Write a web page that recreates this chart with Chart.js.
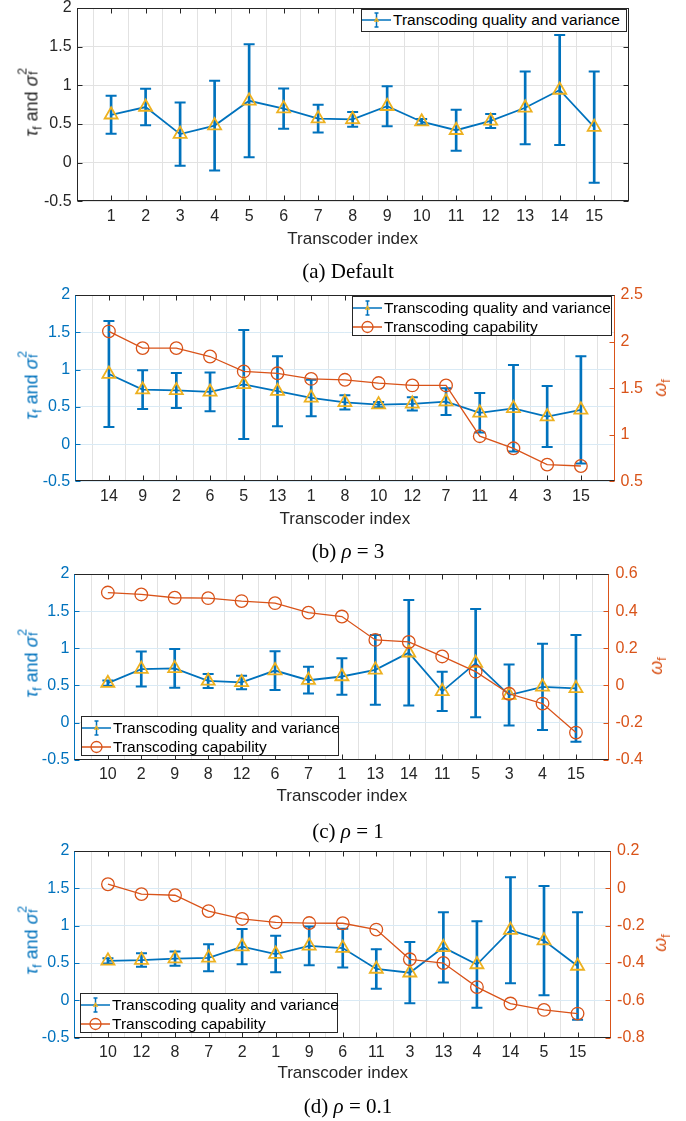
<!DOCTYPE html>
<html><head><meta charset="utf-8">
<script src="https://cdn.jsdelivr.net/npm/chart.js@4.4.1/dist/chart.umd.min.js"></script>
<style>
body{margin:0;background:#fff;}
#page{position:relative;width:686px;height:1121px;overflow:hidden;font-family:'Liberation Sans',Arial,sans-serif;}
canvas{position:absolute;left:0;}
.xl{position:absolute;font-size:17px;color:#262626;transform:translate(-50%,-50%);white-space:nowrap;line-height:1;}
.cap{position:absolute;font-family:'Liberation Serif','Times New Roman',serif;font-size:21px;color:#000;transform:translate(-50%,-50%);white-space:nowrap;line-height:1;}
.yl{position:absolute;font-size:18px;white-space:nowrap;line-height:1;transform:translate(-50%,-50%) rotate(-90deg);}
.gk{font-style:italic;}
.sb{font-size:0.7em;position:relative;top:0.3em;}
.st{display:inline-block;position:relative;width:0.45em;height:1em;}
.st span{position:absolute;left:0.05em;font-size:0.7em;line-height:1;}
.leg{position:absolute;border:1px solid #262626;background:#fff;font-size:15.5px;color:#000;box-sizing:border-box;}
.leg .row{position:absolute;left:0;height:20px;display:flex;align-items:center;white-space:nowrap;}
.leg svg{display:block;margin-right:2px;}
</style></head>
<body><div id="page"></div>
<script>
// ---------- data ----------
const transcoderIndex = [1,2,3,4,5,6,7,8,9,10,11,12,13,14,15];
const qualityMean     = [0.62,0.72,0.37,0.48,0.80,0.70,0.57,0.56,0.73,0.53,0.42,0.54,0.71,0.94,0.46];
const qualityVariance = [0.245,0.235,0.41,0.58,0.73,0.26,0.18,0.095,0.26,0.035,0.265,0.09,0.47,0.71,0.72];

const orderB = [14,9,2,6,5,13,1,8,10,12,7,11,4,3,15];
const omegaB = [2.11,1.93,1.93,1.84,1.68,1.66,1.60,1.59,1.555,1.53,1.53,0.985,0.855,0.68,0.665];
const orderC = [10,2,9,8,12,6,7,1,13,14,11,5,3,4,15];
const omegaC = [0.50,0.49,0.472,0.47,0.454,0.443,0.392,0.371,0.245,0.234,0.156,0.074,-0.045,-0.098,-0.254];
const orderD = [10,12,8,7,2,1,9,6,11,3,13,4,14,5,15];
const omegaD = [0.022,-0.031,-0.037,-0.122,-0.164,-0.182,-0.186,-0.187,-0.221,-0.38,-0.40,-0.529,-0.617,-0.651,-0.671];

const leftTicks   = [-0.5,0,0.5,1,1.5,2];
const rightTicksB = [0.5,1,1.5,2,2.5];
const rightTicksC = [-0.4,-0.2,0,0.2,0.4,0.6];
const rightTicksD = [-0.8,-0.6,-0.4,-0.2,0,0.2];

const legendQuality = 'Transcoding quality and variance';
const legendCapability = 'Transcoding capability';
const xTitle = 'Transcoder index';

// ---------- styles ----------
const BLUE='#0072BD', ORANGE='#D95319', YELLOW='#EDB120', AX='#262626';
const GRID_GRAY='#e2e2e2', GRID_BLUE='rgb(217,234,245)';
const FONT={family:"'Liberation Sans', Arial, sans-serif", size:16, lineHeight:1};
const PADT=12, TL=5;
const page=document.getElementById('page');

const fmt = v => String(parseFloat(Number(v).toFixed(2)));

const boxPlugin={
  id:'box',
  afterDatasetsDraw(chart){
    const o=chart.options.plugins.box;
    const {ctx,chartArea:{left,top,right,bottom}}=chart;
    const L=Math.round(left)+0.5, R=Math.round(right)-0.5, T=Math.round(top)+0.5, B=Math.round(bottom)-0.5;
    ctx.save(); ctx.lineWidth=1;
    const seg=(x1,y1,x2,y2,c)=>{ctx.strokeStyle=c;ctx.beginPath();ctx.moveTo(x1,y1);ctx.lineTo(x2,y2);ctx.stroke();};
    const xs=chart.scales.x;
    xs.ticks.forEach(t=>{ if(t.value<1||t.value>15) return; const p=Math.round(xs.getPixelForValue(t.value))+0.5;
      seg(p,B,p,B-TL,AX); seg(p,T,p,T+TL,AX); });
    const ys=chart.scales.y, y2=chart.scales.y2;
    ys.ticks.forEach(t=>{ const p=Math.round(ys.getPixelForValue(t.value))+0.5;
      seg(L,p,L+TL,p,o.yColor); if(!y2) seg(R,p,R-TL,p,o.yColor); });
    if(y2) y2.ticks.forEach(t=>{ const p=Math.round(y2.getPixelForValue(t.value))+0.5; seg(R,p,R-TL,p,ORANGE); });
    seg(L-0.5,T,R+0.5,T,AX); seg(L-0.5,B,R+0.5,B,AX);
    seg(L,T,L,B,o.yColor); seg(R,T,R,B,y2?ORANGE:AX);
    ctx.restore();
  }
};

function svgErr(){return `<svg width="29" height="20"><line x1="0" y1="10" x2="29" y2="10" stroke="${BLUE}" stroke-width="1.5"/><line x1="14.5" y1="3" x2="14.5" y2="17" stroke="${BLUE}" stroke-width="1.5"/><line x1="12.5" y1="3" x2="16.5" y2="3" stroke="${BLUE}" stroke-width="1.5"/><line x1="12.5" y1="17" x2="16.5" y2="17" stroke="${BLUE}" stroke-width="1.5"/><polygon points="14.5,8.3 16.2,11.2 12.8,11.2" fill="none" stroke="${YELLOW}" stroke-width="1.2"/></svg>`;}
function svgCirc(){return `<svg width="29" height="20"><line x1="0" y1="10" x2="29" y2="10" stroke="${ORANGE}" stroke-width="1.5"/><circle cx="14.5" cy="10" r="5.5" fill="none" stroke="${ORANGE}" stroke-width="1.3"/></svg>`;}

function addDiv(cls,html,x,y,style){const d=document.createElement('div');d.className=cls;d.innerHTML=html;d.style.left=x+'px';d.style.top=y+'px';if(style)Object.assign(d.style,style);page.appendChild(d);return d;}

function panel(cfg){
  const a=cfg.area, order=cfg.order||transcoderIndex, omega=cfg.omega;
  const H=Math.ceil(PADT+(a.b-a.t)+30);
  const XH=H-PADT-(a.b-a.t);
  const cv=document.createElement('canvas');
  cv.width=686; cv.height=H;
  cv.style.top=(a.t-PADT)+'px'; cv.style.width='686px'; cv.style.height=H+'px';
  page.appendChild(cv);
  const rightW = omega?50:0;
  const pos=order.map((_,i)=>i+1);
  const means=order.map(k=>qualityMean[k-1]);
  const errs=order.map(k=>qualityVariance[k-1]);
  const caps=[]; pos.forEach((x,i)=>{caps.push({x,y:means[i]-errs[i]});caps.push({x,y:means[i]+errs[i]});});
  const ds=[];
  if(omega) ds.push({type:'line',label:legendCapability,data:pos.map((x,i)=>({x,y:omega[i]})),yAxisID:'y2',
    borderColor:ORANGE,borderWidth:1.3,pointStyle:'circle',pointRadius:6.3,pointBorderColor:ORANGE,
    pointBackgroundColor:'rgba(0,0,0,0)',pointBorderWidth:1.3,tension:0,order:0});
  ds.push({type:'line',label:legendQuality,data:pos.map((x,i)=>({x,y:means[i]})),yAxisID:'y',
    borderColor:BLUE,borderWidth:1.8,pointStyle:'triangle',pointRadius:7.5,pointBorderColor:YELLOW,
    pointBackgroundColor:'rgba(0,0,0,0)',pointBorderWidth:1.8,tension:0,order:1});
  ds.push({type:'line',label:'caps',data:caps,yAxisID:'y',showLine:false,pointStyle:'line',pointRadius:5.5,
    pointBorderColor:BLUE,pointBorderWidth:2,order:2});
  ds.push({type:'bar',label:'bars',data:pos.map((x,i)=>({x,y:[means[i]-errs[i],means[i]+errs[i]]})),yAxisID:'y',
    backgroundColor:BLUE,barThickness:2,borderWidth:0,grouped:false,order:3});
  const leftColor = omega?BLUE:AX;
  const scales={
    x:{type:'linear',min:0,max:16,offset:false,afterFit:s=>{s.height=XH;},
      ticks:{stepSize:1,autoSkip:false,maxRotation:0,padding:7,color:AX,font:FONT,
        callback:v=>(v>=1&&v<=15)?String(order[v-1]):''},
      grid:{color:GRID_GRAY,drawTicks:false,lineWidth:1},border:{display:false}},
    y:{type:'linear',position:'left',min:leftTicks[0],max:leftTicks[leftTicks.length-1],
      afterFit:s=>{s.width=a.l;},
      ticks:{stepSize:leftTicks[1]-leftTicks[0],padding:5,color:leftColor,font:FONT,callback:fmt},
      grid:{color:omega?GRID_BLUE:GRID_GRAY,drawTicks:false},border:{display:false}}
  };
  if(omega){
    const rt=cfg.rightTicks;
    scales.y2={type:'linear',position:'right',min:rt[0],max:rt[rt.length-1],afterFit:s=>{s.width=rightW;},
      ticks:{stepSize:Math.round((rt[1]-rt[0])*100)/100,padding:6,color:ORANGE,font:FONT,callback:fmt},
      grid:{display:false,drawTicks:false},border:{display:false}};
  }
  new Chart(cv,{type:'line',data:{datasets:ds},
    options:{responsive:false,animation:false,devicePixelRatio:1,
      layout:{padding:{top:PADT,left:0,right:686-a.r-rightW,bottom:0}},
      plugins:{legend:{display:false},tooltip:{enabled:false},box:{yColor:leftColor}},
      scales},
    plugins:[boxPlugin]});

  // text
  addDiv('xl',xTitle,(a.l+a.r)/2,cfg.xlY);
  addDiv('cap',cfg.caption,348,cfg.capY);
  const yl=addDiv('yl',`<span class="gk">τ</span><span class="sb">f</span> and <span class="gk">σ</span><span class="st"><span style="top:-0.25em">2</span><span style="top:0.62em">f</span></span>`,30,(a.t+a.b)/2-3);
  yl.style.color=leftColor;
  if(omega){
    const yr=addDiv('yl',`<span class="gk">ω</span><span class="sb">f</span>`,cfg.rlX,(a.t+a.b)/2);
    yr.style.color=ORANGE;
  }
  // legend
  const L=cfg.legend;
  const lg=addDiv('leg','',L.x,L.y,{width:L.w+'px',height:L.h+'px'});
  const rows=[[svgErr(),legendQuality]]; if(omega) rows.push([svgCirc(),legendCapability]);
  rows.forEach((r,i)=>{const d=document.createElement('div');d.className='row';d.style.top=(L.r0+i*19.5-10)+'px';
    d.innerHTML=r[0]+'<span>'+r[1]+'</span>';lg.appendChild(d);});
}

panel({area:{l:76.6,t:7.3,r:628.7,b:201.7},xlY:237.7,capY:270.5,caption:'(a) Default',
  legend:{x:361,y:9.3,w:266,h:22.5,r0:10.2}});
panel({area:{l:75.2,t:293.3,r:614.6,b:481.7},order:orderB,omega:omegaB,rightTicks:rightTicksB,rlX:660,
  xlY:517.7,capY:550.5,caption:'(b) <i>ρ</i> = 3',legend:{x:352,y:295.7,w:260,h:40.5,r0:11}});
panel({area:{l:74.4,t:572.3,r:609.4,b:760},order:orderC,omega:omegaC,rightTicks:rightTicksC,rlX:656,
  xlY:795,capY:831,caption:'(c) <i>ρ</i> = 1',legend:{x:81,y:715.7,w:258,h:40.5,r0:11}});
panel({area:{l:74.4,t:849,r:611.1,b:1037.7},order:orderD,omega:omegaD,rightTicks:rightTicksD,rlX:660,
  xlY:1071.7,capY:1106,caption:'(d) <i>ρ</i> = 0.1',legend:{x:80,y:992.7,w:258,h:40.5,r0:11}});
</script></body></html>
